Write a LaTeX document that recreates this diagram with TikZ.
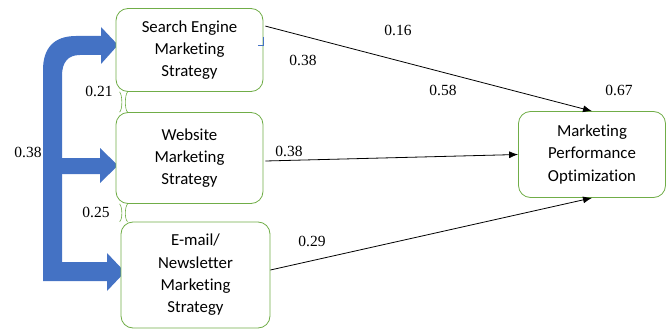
\documentclass[tikz,border=0pt]{standalone}
\usepackage{fontspec}
\setmainfont{Liberation Serif}
\newfontfamily\boxfont[Ligatures=CommonOff]{Carlito}
\usetikzlibrary{arrows.meta,calc}
\definecolor{boxgreen}{RGB}{112,173,71}
\definecolor{bandblue}{RGB}{68,114,196}
\begin{document}
\begin{tikzpicture}[x=1pt,y=-1pt,
  construct/.style={draw=boxgreen,line width=0.8pt,rounded corners=12pt,fill=white,
    align=center,inner sep=0pt,font=\boxfont\fontsize{16.8}{22.3}\selectfont},
  path/.style={draw=black,line width=0.8pt,-{Latex[length=9pt,width=7pt]}},
  coef/.style={font=\fontsize{15.5}{18}\selectfont,inner sep=0pt},
  corr/.style={draw=boxgreen,line width=0.6pt}]
\useasboundingbox (0,0) rectangle (670,329);

% wide blue bands feeding the three strategies
\fill[bandblue] (43,281) -- (43,70) .. controls (43,48) and (54,36) .. (76,36)
  -- (101,36) -- (101,27) -- (118,45) -- (101,64) -- (101,55) -- (80,55)
  .. controls (68,55) and (62,62) .. (62,76) -- (62,262) -- (107,262) -- (107,253)
  -- (125,272) -- (107,291) -- (107,281) -- cycle;
\fill[bandblue] (57,158) -- (100,158) -- (100,148) -- (118,165.5) -- (100,183)
  -- (100,174) -- (57,174) -- cycle;

% constructs
\node[construct,minimum width=147pt,minimum height=83pt] (sem) at (189.5,50)
  {\raisebox{0pt}{}Search Engine\\Marketing\\Strategy};
\node[construct,minimum width=147pt,minimum height=91pt] (web) at (189.5,158)
  {Website\\Marketing\\Strategy};
\node[construct,minimum width=149pt,minimum height=106pt] (mail) at (195.5,275)
  {E-mail/\\Newsletter\\Marketing\\Strategy};
\node[construct,minimum width=147pt,minimum height=86pt] (mpo) at (592,154.5)
  {Marketing\\Performance\\Optimization};

% small blue tick on the first construct
\draw[bandblue,line width=1pt] (263,37) -- (263,46) -- (258,46);

% correlations between neighbouring strategies
\draw[corr] ($(sem.south west)+(4,0)$) .. controls ($(sem.south west)+(7,3)$) and ($(sem.south west)+(7,18)$) .. ($(web.north west)+(4,0)$);
\draw[corr] ($(sem.south west)+(12,0)$) .. controls ($(sem.south west)+(9,3)$) and ($(sem.south west)+(9,18)$) .. ($(web.north west)+(12,0)$);
\draw[corr] ($(web.south west)+(4,0)$) .. controls ($(web.south west)+(7,3)$) and ($(web.south west)+(7,16)$) .. ($(mail.north west)+(-1,0)$);
\draw[corr] ($(web.south west)+(12,0)$) .. controls ($(web.south west)+(9,3)$) and ($(web.south west)+(9,16)$) .. ($(mail.north west)+(7,0)$);

% structural paths
\draw[path] ($(sem.north east)+(2,18)$) -- (mpo.north);
\draw[path] ($(web.east)+(2,3)$) -- (mpo.west);
\draw[path] ($(mail.east)+(0,-5)$) -- (mpo.south);

% coefficients
\node[coef] (c1) at (398,30) {0.16};
\node[coef] (c2) at (303,60) {0.38};
\node[coef] (c3) at (443,90) {0.58};
\node[coef] (c4) at (619,90) {0.67};
\node[coef] (c5) at (289,151) {0.38};
\node[coef] (c6) at (312,241) {0.29};
\node[coef] (c7) at (99,91) {0.21};
\node[coef] (c8) at (28,152) {0.38};
\node[coef] (c9) at (96,212) {0.25};
\end{tikzpicture}
\end{document}
